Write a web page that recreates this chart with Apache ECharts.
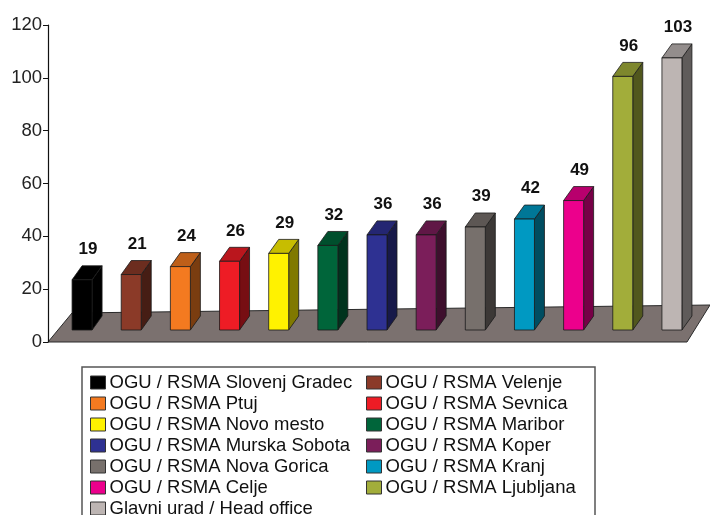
<!DOCTYPE html>
<html>
<head>
<meta charset="utf-8">
<script src="https://cdn.jsdelivr.net/npm/echarts@6/dist/echarts.min.js"></script>
<style>
html, body { margin: 0; padding: 0; background: #fff; }
#chart { width: 710px; height: 515px; }
</style>
</head>
<body>
<div id="chart"></div>
<script>
// podatki
const offices = [
  'OGU / RSMA Slovenj Gradec',
  'OGU / RSMA Velenje',
  'OGU / RSMA Ptuj',
  'OGU / RSMA Sevnica',
  'OGU / RSMA Novo mesto',
  'OGU / RSMA Maribor',
  'OGU / RSMA Murska Sobota',
  'OGU / RSMA Koper',
  'OGU / RSMA Nova Gorica',
  'OGU / RSMA Kranj',
  'OGU / RSMA Celje',
  'OGU / RSMA Ljubljana',
  'Glavni urad / Head office'
];
const staff = [19, 21, 24, 26, 29, 32, 36, 36, 39, 42, 49, 96, 103];
const barColors = [
  '#000000', '#8b3a28', '#f47a20', '#ee1c25', '#fff200', '#00653a', '#2e3192',
  '#7b1e5a', '#77706c', '#0099c2', '#ec008c', '#a2ad3a', '#bdb5b3'
];
const yMin = 0, yMax = 120, yStep = 20;

const font = '"Liberation Sans", Arial, sans-serif';
const chart = echarts.init(document.getElementById('chart'));

// potemnitev barve (k = delež črne)
const darken = (hex, k) => {
  const c = echarts.color.parse(hex);
  return 'rgb(' + [0, 1, 2].map(i => Math.round(c[i] * (1 - k))).join(',') + ')';
};

// 3D stolpec: sprednja ploskev, zgornja in stranska
const renderBar = (params, api) => {
  const idx = api.value(0), val = api.value(1);
  const top = api.coord([idx, val]);
  const base = api.coord([idx, 0]);
  const cx = top[0] + 9.5, hw = 10;
  const x0 = cx - hw, x1 = cx + hw;
  const yt = top[1] - 12, yb = base[1] - 12;
  const dx = 10, dy = -14;
  const col = api.visual('color');
  const topCol = darken(col, 0.22);
  const sideCol = darken(col, 0.5);
  const edge = { stroke: '#1a1a1a', lineWidth: 0.8 };
  return {
    type: 'group',
    children: [
      { type: 'polygon', shape: { points: [[x1, yt], [x1 + dx, yt + dy], [x1 + dx, yb + dy], [x1, yb]] },
        style: Object.assign({ fill: sideCol }, edge) },
      { type: 'polygon', shape: { points: [[x0, yt], [x0 + dx, yt + dy], [x1 + dx, yt + dy], [x1, yt]] },
        style: Object.assign({ fill: topCol }, edge) },
      { type: 'rect', shape: { x: x0, y: yt, width: 2 * hw, height: yb - yt },
        style: Object.assign({ fill: col }, edge) },
      { type: 'text', x: cx + 6, y: yt + dy - 8,
        style: { text: String(val), fill: '#111', font: 'bold 17px ' + font, align: 'center', verticalAlign: 'bottom' } }
    ]
  };
};

const series = offices.map((name, i) => ({
  name: name,
  type: 'custom',
  renderItem: renderBar,
  itemStyle: { color: barColors[i] },
  data: [[i, staff[i]]],
  z: 3
}));

const legendBase = {
  orient: 'vertical',
  top: 373,
  height: 200,
  padding: 0,
  itemWidth: 15,
  itemHeight: 13,
  itemGap: 2,
  icon: 'rect',
  itemStyle: { borderColor: '#333', borderWidth: 1 },
  textStyle: { fontSize: 18.5, color: '#111', fontFamily: font, padding: [0, 0, 0, -1] },
  selectedMode: false
};

const option = {
  animation: false,
  grid: { left: 48, right: 23, top: 25, bottom: 173 },
  xAxis: { type: 'category', data: offices, show: false },
  yAxis: {
    type: 'value',
    min: yMin,
    max: yMax,
    interval: yStep,
    axisLine: { show: true, lineStyle: { color: '#111', width: 1.2 } },
    axisTick: { show: true, length: 5, lineStyle: { color: '#111' } },
    axisLabel: { fontSize: 18.5, color: '#222', fontFamily: font, margin: 6 },
    splitLine: { show: false }
  },
  legend: [
    Object.assign({}, legendBase, { left: 90, data: offices.filter((_, i) => i % 2 === 0) }),
    Object.assign({}, legendBase, { left: 366, data: offices.filter((_, i) => i % 2 === 1) })
  ],
  graphic: [
    { type: 'polygon', z: 0, shape: { points: [[48, 342], [72, 313], [710, 305], [687, 342]] },
      style: { fill: '#7b716f', stroke: '#2a2a2a', lineWidth: 1 } },
    { type: 'rect', z: 0, shape: { x: 82, y: 367, width: 513, height: 160 },
      style: { fill: 'none', stroke: '#555', lineWidth: 1.5 } }
  ],
  series: series
};

chart.setOption(option);
</script>
</body>
</html>
